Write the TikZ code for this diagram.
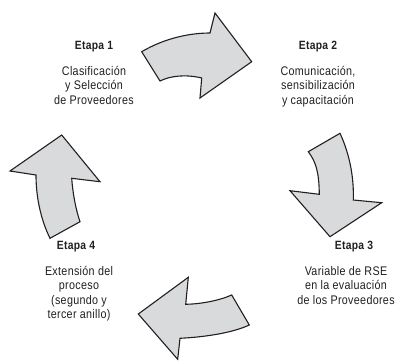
\documentclass[tikz,border=0pt]{standalone}
\usepackage{fontspec}
\setmainfont{Liberation Sans}[FakeStretch=0.86,LetterSpace=2.5]
\definecolor{arrowgray}{HTML}{D9DADC}
\definecolor{textgray}{HTML}{231F20}
\tikzset{
  flecha/.style={draw=textgray,fill=arrowgray,line width=1.1pt,line join=miter},
  titulo/.style={font=\fontsize{12}{14}\selectfont\bfseries,text=textgray,inner sep=0pt},
  texto/.style={font=\fontsize{12.5}{14.5}\selectfont,text=textgray,align=center,inner sep=0pt,anchor=north}
}
\begin{document}
\begin{tikzpicture}[x=1pt,y=-1pt]
\useasboundingbox (0,0) rectangle (396,360);
% arrows
\draw[flecha] (141.7,51.7) .. controls (165,38) and (190,33) .. (210,33) -- (215,13) -- (251.7,61.7)
  -- (200,98) -- (201.7,78) .. controls (185,74) and (170,76) .. (160,81) -- cycle;
\draw[flecha] (308.3,151.7) -- (340,133.3) .. controls (350,155) and (354,178) .. (353.3,200)
  -- (381.7,202.7) -- (330,236.7) -- (290,190.7) -- (319.3,194.3) .. controls (319,172) and (316,162) .. cycle;
\draw[flecha] (231.7,295) .. controls (218,301) and (200,304) .. (185.7,304.3) -- (188.3,277.3)
  -- (138.3,314) -- (177.7,359.3) -- (180,338.3) .. controls (205,337) and (232,333) .. (249.3,325) -- cycle;
\draw[flecha] (61.7,135) -- (100,181.7) -- (71.7,178.3) .. controls (73,195) and (76,210) .. (80,221.7)
  -- (50,238.3) .. controls (40,218) and (36,195) .. (36,175) -- (10,171) -- cycle;
% etapas
\node[titulo] (etapa1) at (94,47) {Etapa 1};
\node[texto] (desc1) at (94,66) {Clasificación\\y Selección\\de Proveedores};
\node[titulo] (etapa2) at (318,47) {Etapa 2};
\node[texto] (desc2) at (318,66) {Comunicación,\\sensibilización\\y capacitación};
\node[titulo] (etapa3) at (354,247) {Etapa 3};
\node[texto] (desc3) at (346,266) {Variable de RSE\\en la evaluación\\de los Proveedores};
\node[titulo] (etapa4) at (76,247) {Etapa 4};
\node[texto] (desc4) at (79,266) {Extensión del\\proceso\\(segundo y\\tercer anillo)};
\end{tikzpicture}
\end{document}
